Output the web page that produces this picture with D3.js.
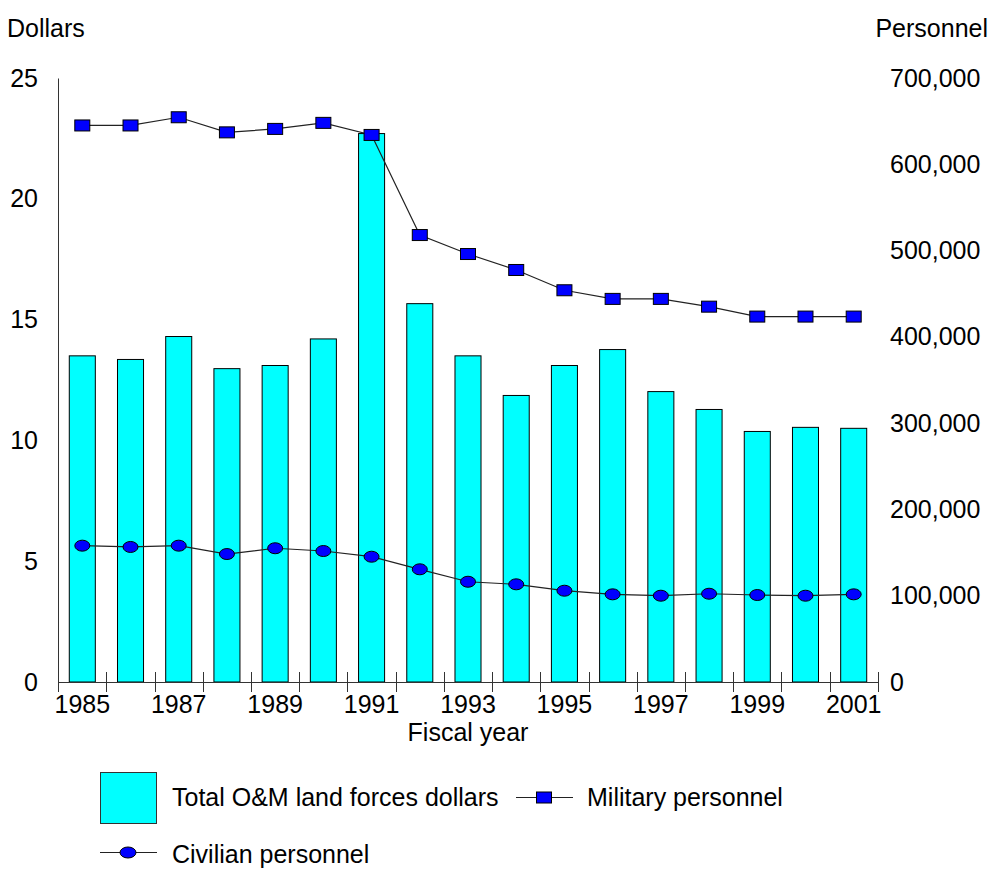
<!DOCTYPE html>
<html>
<head>
<meta charset="utf-8">
<script src="https://d3js.org/d3.v7.min.js"></script>
<style>
    body { margin: 0; background: #fff; }
    svg text { font-family: "Liberation Sans", Arial, sans-serif; fill: #000; }
</style>
</head>
<body>
<div id="chart"></div>

<script>

    // values
    let years = [1985, 1986, 1987, 1988, 1989, 1990, 1991, 1992, 1993, 1994, 1995, 1996, 1997, 1998, 1999, 2000, 2001];
    let dollars = [13.5, 13.35, 14.3, 12.97, 13.1, 14.2, 22.7, 15.66, 13.5, 11.86, 13.1, 13.76, 12.02, 11.28, 10.37, 10.54, 10.5];
    let military = [645000, 645000, 654500, 637000, 641000, 648000, 634000, 518000, 496000, 477500, 454000, 444000, 444000, 435000, 423500, 423500, 423500];
    let civilian = [158000, 156500, 158000, 148300, 155000, 151800, 145200, 130600, 116200, 113200, 105800, 101600, 100000, 102300, 100800, 100000, 101600];

    let dollarTicks = [0, 5, 10, 15, 20, 25];
    let personnelTicks = [0, 100000, 200000, 300000, 400000, 500000, 600000, 700000];
    let labelYears = [1985, 1987, 1989, 1991, 1993, 1995, 1997, 1999, 2001];

    let width = 993, height = 876;
    let plot = {left: 58, right: 878, top: 78, bottom: 682};
    let fontSize = "25px";

    var svg = d3.select("#chart")
        .append("svg")
            .attr("width", width)
            .attr("height", height);

    var x = d3.scaleBand()
        .domain(years)
        .range([plot.left, plot.right])
        .paddingInner(0.46)
        .paddingOuter(0.234);

    var yLeft = d3.scaleLinear().domain([0, 25]).range([plot.bottom, plot.top]);
    var yRight = d3.scaleLinear().domain([0, 700000]).range([plot.bottom, plot.top]);

    var cx = function(d, i) { return x(years[i]) + x.bandwidth() / 2; };

    // bars
    svg.append("g")
        .selectAll("rect")
        .data(dollars)
        .enter()
        .append("rect")
            .attr("x", function(d, i) { return x(years[i]); })
            .attr("y", function(d) { return yLeft(d); })
            .attr("width", x.bandwidth())
            .attr("height", function(d) { return yLeft(0) - yLeft(d); })
            .style("fill", "#00ffff")
            .style("stroke", "#000")
            .style("stroke-width", 1);

    // left axis
    var gl = svg.append("g")
        .attr("transform", "translate(" + plot.left + ",0)")
        .call(d3.axisLeft(yLeft).tickValues(dollarTicks).tickSize(0).tickPadding(20));
    gl.select(".domain").attr("stroke", "#333");
    gl.selectAll("text").style("font-size", fontSize);

    // right axis, labels only
    var gr = svg.append("g")
        .attr("transform", "translate(" + plot.right + ",0)")
        .call(d3.axisRight(yRight).tickValues(personnelTicks).tickSize(0).tickPadding(12)
            .tickFormat(d3.format(",")));
    gr.select(".domain").remove();
    gr.selectAll("text").style("font-size", fontSize);

    // bottom axis: labels at band centres, every other year
    var gb = svg.append("g")
        .attr("transform", "translate(0," + plot.bottom + ")")
        .call(d3.axisBottom(x).tickValues(labelYears).tickSize(0).tickPadding(13));
    gb.select(".domain").attr("stroke", "#333").attr("d", "M" + plot.left + ",0.5H" + plot.right);
    gb.selectAll("text").style("font-size", fontSize);

    // tick marks at the band boundaries
    var bounds = years.map(function(y) { return x(y) - x.step() * x.paddingInner() / 2; });
    bounds.push(plot.right);
    bounds[0] = plot.left;
    svg.append("g")
        .selectAll("line")
        .data(bounds)
        .enter()
        .append("line")
            .attr("x1", function(d) { return Math.round(d) + 0.5; })
            .attr("x2", function(d) { return Math.round(d) + 0.5; })
            .attr("y1", plot.bottom - 10)
            .attr("y2", plot.bottom + 10)
            .attr("stroke", "#333");

    // military line + squares
    var line = d3.line()
        .x(function(d, i) { return cx(d, i); })
        .y(function(d) { return yRight(d); });

    svg.append("path")
        .datum(military)
        .attr("d", line)
        .attr("fill", "none")
        .attr("stroke", "#222")
        .attr("stroke-width", 1.2);

    svg.append("g")
        .selectAll("rect")
        .data(military)
        .enter()
        .append("rect")
            .attr("x", function(d, i) { return cx(d, i) - 7.5; })
            .attr("y", function(d) { return yRight(d) - 5.5; })
            .attr("width", 15)
            .attr("height", 11)
            .style("fill", "#0000ff")
            .style("stroke", "#000");

    // civilian line + ellipses
    svg.append("path")
        .datum(civilian)
        .attr("d", line)
        .attr("fill", "none")
        .attr("stroke", "#222")
        .attr("stroke-width", 1.2);

    svg.append("g")
        .selectAll("ellipse")
        .data(civilian)
        .enter()
        .append("ellipse")
            .attr("cx", function(d, i) { return cx(d, i); })
            .attr("cy", function(d) { return yRight(d); })
            .attr("rx", 7.5)
            .attr("ry", 5.5)
            .style("fill", "#0000ff")
            .style("stroke", "#000");

    // axis titles
    svg.append("text")
        .attr("x", 7)
        .attr("y", 37)
        .style("font-size", fontSize)
        .text("Dollars");

    svg.append("text")
        .attr("x", 988)
        .attr("y", 37)
        .attr("text-anchor", "end")
        .style("font-size", fontSize)
        .text("Personnel");

    svg.append("text")
        .attr("x", 468)
        .attr("y", 741)
        .attr("text-anchor", "middle")
        .style("font-size", fontSize)
        .text("Fiscal year");

    // legend
    var lg = svg.append("g");

    lg.append("rect")
        .attr("x", 100.5).attr("y", 772.5)
        .attr("width", 56).attr("height", 51)
        .style("fill", "#00ffff").style("stroke", "#333");
    lg.append("text")
        .attr("x", 172).attr("y", 806)
        .style("font-size", fontSize)
        .text("Total O&M land forces dollars");

    lg.append("line")
        .attr("x1", 516).attr("x2", 573).attr("y1", 797.5).attr("y2", 797.5)
        .attr("stroke", "#222");
    lg.append("rect")
        .attr("x", 536.5).attr("y", 792)
        .attr("width", 15).attr("height", 11)
        .style("fill", "#0000ff").style("stroke", "#000");
    lg.append("text")
        .attr("x", 587).attr("y", 806)
        .style("font-size", fontSize)
        .text("Military personnel");

    lg.append("line")
        .attr("x1", 100).attr("x2", 157).attr("y1", 852.5).attr("y2", 852.5)
        .attr("stroke", "#222");
    lg.append("ellipse")
        .attr("cx", 128).attr("cy", 852.5)
        .attr("rx", 8).attr("ry", 5.5)
        .style("fill", "#0000ff").style("stroke", "#000");
    lg.append("text")
        .attr("x", 172).attr("y", 863)
        .style("font-size", fontSize)
        .text("Civilian personnel");

</script>
</body>
</html>
